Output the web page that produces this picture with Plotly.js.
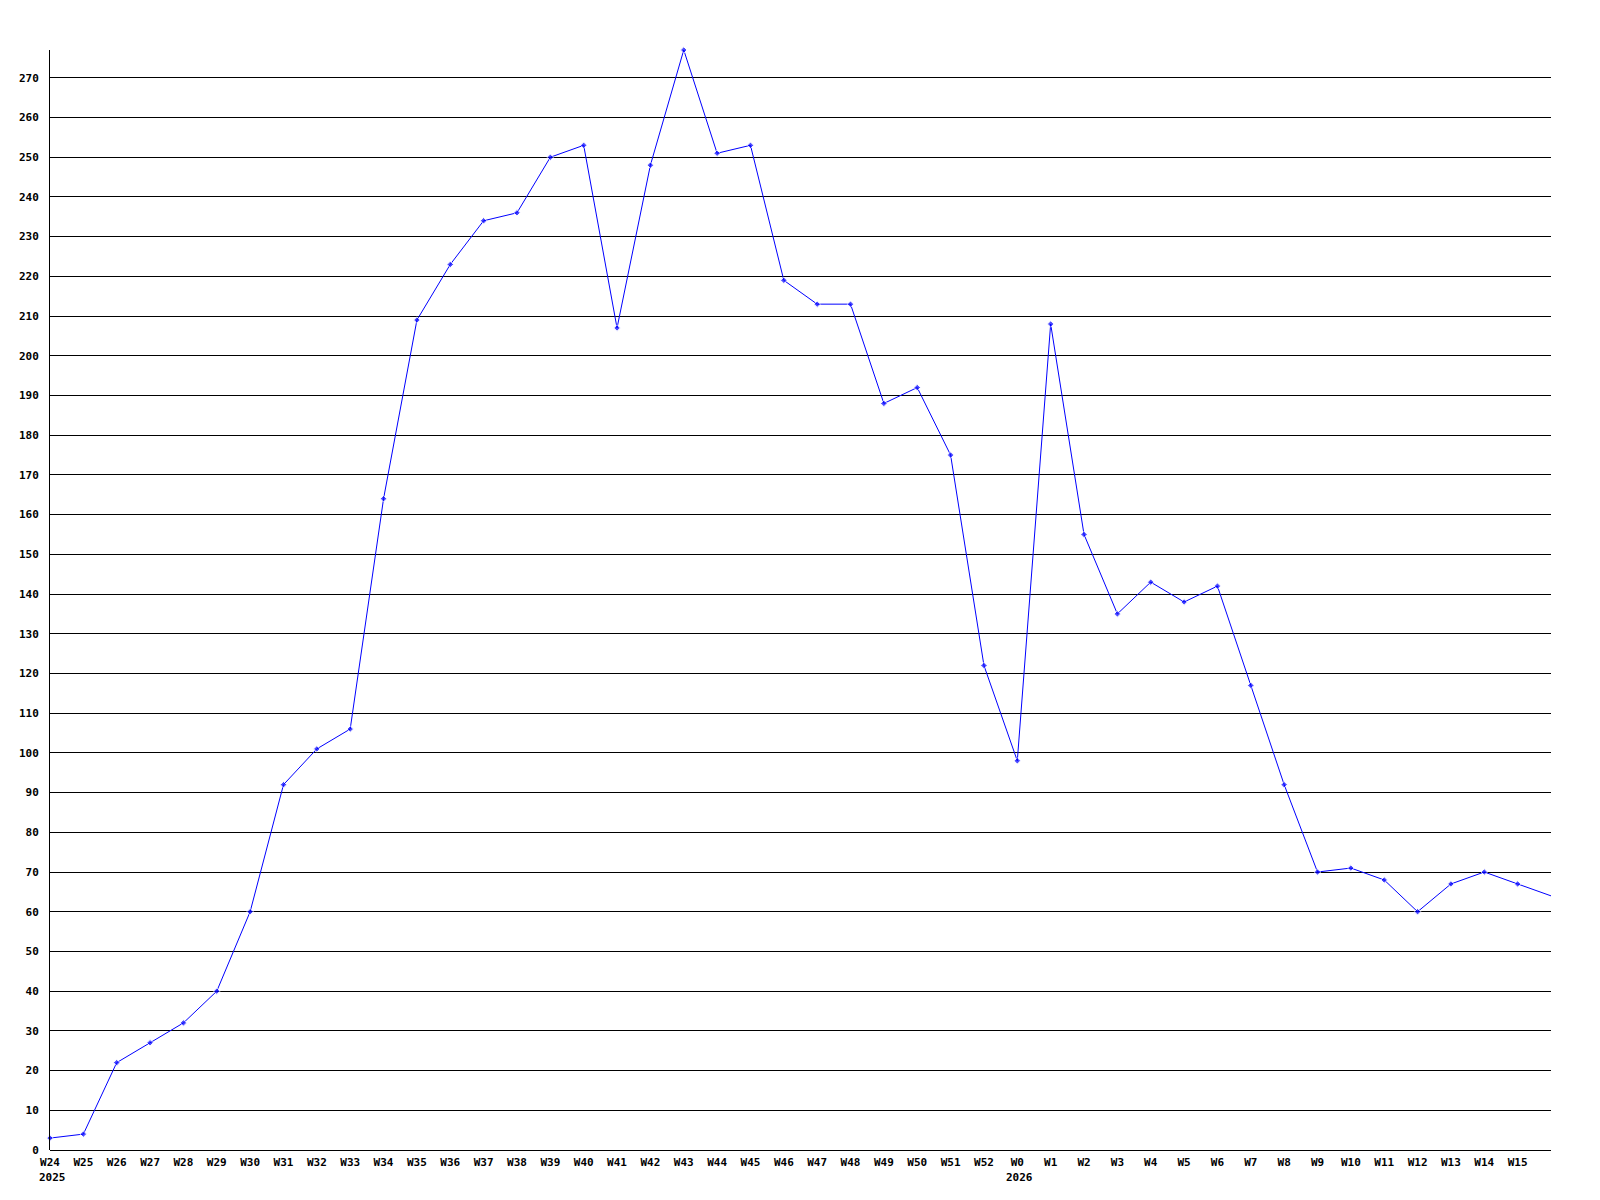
<!DOCTYPE html>
<html>
<head>
<meta charset="utf-8">
<script src="https://cdn.plot.ly/plotly-3.0.1.min.js"></script>
<style>html,body{margin:0;padding:0;background:#fff;}#chart{width:1600px;height:1200px;}</style>
</head>
<body>
<div id="chart"></div>
<script>
const weeks = ["W24","W25","W26","W27","W28","W29","W30","W31","W32","W33","W34","W35","W36","W37","W38","W39","W40","W41","W42","W43","W44","W45","W46","W47","W48","W49","W50","W51","W52","W0","W1","W2","W3","W4","W5","W6","W7","W8","W9","W10","W11","W12","W13","W14","W15","W16"];
const values = [3,4,22,27,32,40,60,92,101,106,164,209,223,234,236,250,253,207,248,277,251,253,219,213,213,188,192,175,122,98,208,155,135,143,138,142,117,92,70,71,68,60,67,70,67,64];
const shownLabels = weeks.slice(0, 45);
const yearLabels = ["2025","2026"];
const yearAt = ["W24","W0"];

const idx = weeks.map((w,i)=>i);
const font = {family:"DejaVu Sans Mono", size:11, color:"#000", weight:"bold"};

const trace = {
  x: idx, y: values, type:"scatter", mode:"lines+markers",
  line:{color:"#0000ff", width:1},
  marker:{color:"#0000ff", size: idx.map(i => i < shownLabels.length ? 5 : 0), symbol:"diamond"},
  cliponaxis:false, hoverinfo:"none"
};

const annotations = yearLabels.map((t,i)=>({
  text:t, x: weeks.indexOf(yearAt[i]), xref:"x", y:0, yref:"paper",
  xanchor:"left", yanchor:"top", xshift:-13, yshift:-19, showarrow:false, font:font
}));

const layout = {
  width:1600, height:1200,
  margin:{l:50, r:49, t:50, b:50},
  paper_bgcolor:"#fff", plot_bgcolor:"#fff",
  showlegend:false,
  font:font,
  xaxis:{
    range:[0,45], tickmode:"array",
    tickvals: shownLabels.map((w,i)=>i), ticktext: shownLabels,
    showgrid:false, zeroline:false, showline:false, ticks:"", tickfont:font, tickangle:0,
    ticklabelstandoff:4, fixedrange:true
  },
  yaxis:{
    range:[0,277], dtick:10, tick0:0, showgrid:true, gridcolor:"#000", gridwidth:1,
    zeroline:true, zerolinecolor:"#000", zerolinewidth:1,
    showline:true, linecolor:"#000", linewidth:1, ticks:"", tickfont:font,
    ticklabelstandoff:8, fixedrange:true
  },
  annotations: annotations
};
Plotly.newPlot("chart", [trace], layout, {displayModeBar:false, staticPlot:true});
</script>
</body>
</html>
